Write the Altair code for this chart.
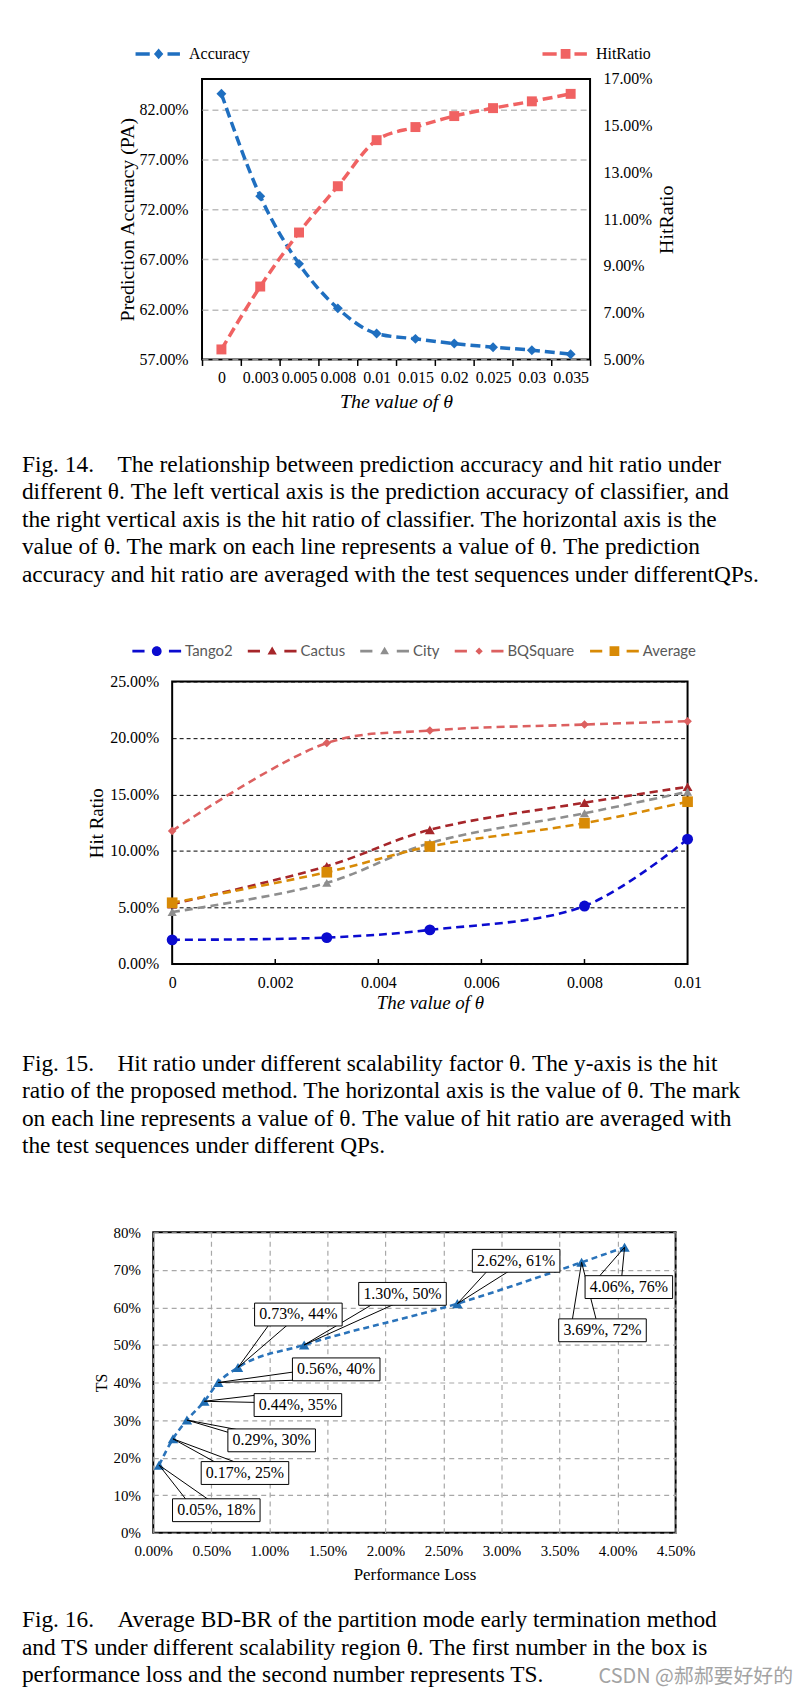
import altair as alt
import pandas as pd

SERIF = "Liberation Serif"

# ---------------- Fig. 14 data ----------------
theta14 = ["0", "0.003", "0.005", "0.008", "0.01", "0.015", "0.02", "0.025", "0.03", "0.035"]
accuracy14 = [83.56, 73.33, 66.56, 62.11, 59.59, 59.06, 58.59, 58.23, 57.93, 57.53]
hitratio14 = [5.43, 8.12, 10.43, 12.41, 14.38, 14.94, 15.41, 15.75, 16.04, 16.36]
acc_ticks = [57, 62, 67, 72, 77, 82]
hit_ticks = [5, 7, 9, 11, 13, 15, 17]

# ---------------- Fig. 15 data ----------------
theta15 = [0, 0.003, 0.005, 0.008, 0.01]
tango2 = [2.14, 2.34, 3.02, 5.13, 11.05]
cactus = [5.3, 8.65, 11.87, 14.27, 15.68]
city = [4.6, 7.18, 10.7, 13.34, 15.24]
bqsquare = [11.78, 19.55, 20.66, 21.19, 21.48]
average = [5.42, 8.12, 10.4, 12.46, 14.36]
series15 = ["Tango2", "Cactus", "City", "BQSquare", "Average"]
x15_ticks = [0, 0.002, 0.004, 0.006, 0.008, 0.01]
y15_ticks = [0, 5, 10, 15, 20, 25]

# ---------------- Fig. 16 data ----------------
loss16 = [0.05, 0.17, 0.29, 0.44, 0.56, 0.73, 1.30, 2.62, 3.69, 4.06]
ts16 = [18, 25, 30, 35, 40, 44, 50, 61, 72, 76]
# callout box centres (data units)
box_x16 = [0.543, 0.79, 1.02, 1.246, 1.576, 1.25, 2.147, 3.126, 3.870, 4.097]
box_y16 = [6.0, 15.9, 24.6, 34.0, 43.5, 58.1, 63.6, 72.4, 53.9, 65.4]
# callout wedge base points (data units)
w1x16 = [0.284, 0.545, 0.66, 0.88, 1.21, 0.995, 1.893, 2.875, 3.610, 3.840]
w1y16 = [8.8, 18.6, 26.6, 36.6, 42.8, 55.3, 60.9, 69.6, 56.7, 68.2]
w2x16 = [0.477, 0.725, 0.75, 0.88, 1.21, 1.155, 2.079, 3.061, 3.816, 4.036]
w2y16 = [8.8, 18.6, 27.3, 34.7, 40.6, 55.3, 60.9, 69.6, 56.7, 68.2]
x16_ticks = [0, 0.5, 1.0, 1.5, 2.0, 2.5, 3.0, 3.5, 4.0, 4.5]
y16_ticks = [0, 10, 20, 30, 40, 50, 60, 70, 80]

# ---------------- captions ----------------
cap14 = [
    "Fig. 14.\u00a0\u00a0\u00a0\u00a0The relationship between prediction accuracy and hit ratio under",
    "different θ. The left vertical axis is the prediction accuracy of classifier, and",
    "the right vertical axis is the hit ratio of classifier. The horizontal axis is the",
    "value of θ. The mark on each line represents a value of θ. The prediction",
    "accuracy and hit ratio are averaged with the test sequences under differentQPs.",
]
cap15 = [
    "Fig. 15.\u00a0\u00a0\u00a0\u00a0Hit ratio under different scalability factor θ. The y-axis is the hit",
    "ratio of the proposed method. The horizontal axis is the value of θ. The mark",
    "on each line represents a value of θ. The value of hit ratio are averaged with",
    "the test sequences under different QPs.",
]
cap16 = [
    "Fig. 16.\u00a0\u00a0\u00a0\u00a0Average BD-BR of the partition mode early termination method",
    "and TS under different scalability region θ. The first number in the box is",
    "performance loss and the second number represents TS.",
]
watermark = "CSDN @郝郝要好好的"

# ---------------- styles ----------------
ACC_C = "#1F6FC0"
HIT_C = "#F06262"
COL15 = ["#0B0BCF", "#A6262A", "#8E8E8E", "#DC6060", "#D88A06"]
SHAPES15 = ["circle", "triangle-up", "triangle-up", "diamond", "square"]
SIZES15 = [120, 100, 85, 75, 115]
C16 = "#2A73BA"

ACC_SYM = ("M-1,-0.078L-0.36,-0.078L-0.36,0.078L-1,0.078Z "
           "M0.44,-0.078L1,-0.078L1,0.078L0.44,0.078Z "
           "M0.04,-0.24L0.25,0L0.04,0.24L-0.17,0Z")
HIT_SYM = ("M-1,-0.078L-0.36,-0.078L-0.36,0.078L-1,0.078Z "
           "M0.44,-0.078L1,-0.078L1,0.078L0.44,0.078Z "
           "M-0.18,-0.22L0.26,-0.22L0.26,0.22L-0.18,0.22Z")
DASHES = "M-1,-0.06L-0.5,-0.06L-0.5,0.06L-1,0.06Z M0.5,-0.06L1,-0.06L1,0.06L0.5,0.06Z "
SYM15 = [
    DASHES + "M-0.2,0A0.2,0.2 0 1,1 0.2,0A0.2,0.2 0 1,1 -0.2,0Z",
    DASHES + "M0,-0.19L0.19,0.14L-0.19,0.14Z",
    DASHES + "M0,-0.18L0.18,0.13L-0.18,0.13Z",
    DASHES + "M0,-0.15L0.15,0L0,0.15L-0.15,0Z",
    DASHES + "M-0.2,-0.2L0.2,-0.2L0.2,0.2L-0.2,0.2Z",
]
BOX_PATH = "M-1,-0.261L1,-0.261L1,0.261L-1,0.261Z"


def axis(**kw):
    base = dict(labelFont=SERIF, labelColor="black", titleFont=SERIF, titleColor="black",
                titleFontWeight="normal", domain=False, ticks=False, grid=False,
                labelOverlap=False)
    base.update(kw)
    return alt.Axis(**base)


def caption(lines, dx, offset):
    return alt.TitleParams(text=lines, orient="bottom", anchor="start", frame="group",
                           dx=dx, offset=offset, font=SERIF, fontSize=23.5,
                           fontWeight="normal", lineHeight=27.6, color="black")


def spacer(top):
    return alt.Chart(pd.DataFrame({"v": [0]})).mark_rule(color="white", strokeWidth=1).encode(
        x=alt.value(0), x2=alt.value(1), y=alt.value(top), y2=alt.value(top)
    ).properties(width=1, height=1, view=alt.ViewBackground(strokeOpacity=0))


def row(top, chart):
    return alt.hconcat(spacer(top), chart, spacing=0).resolve_scale(
        color="independent", shape="independent")


# ================= Chart 1 (Fig. 14) =================
df14 = pd.DataFrame({"theta": theta14, "acc": accuracy14, "hit": hitratio14})
x14 = alt.X("theta:N", sort=theta14, bandPosition=0.5,
            scale=alt.Scale(type="band", paddingInner=0, paddingOuter=0),
            axis=axis(title="The value of θ", ticks=True, tickBand="extent", tickSize=6,
                      tickColor="black", tickWidth=1.5, labelAngle=0, labelPadding=4,
                      labelFontSize=16, titleFontSize=20, titleFontStyle="italic",
                      titlePadding=6))
y_acc = alt.Y("acc:Q", scale=alt.Scale(domain=[57, 85.05], nice=False, zero=False),
              axis=axis(orient="left", values=acc_ticks,
                        labelExpr="format(datum.value, '.2f') + '%'", labelFontSize=16,
                        labelPadding=14, grid=True, gridDash=[6, 4], gridColor="#BDBDBD",
                        gridWidth=1.3, title="Prediction Accuracy (PA)", titleFontSize=20,
                        titlePadding=2))
y_hit = alt.Y("hit:Q", scale=alt.Scale(domain=[5, 17], nice=False, zero=False),
              axis=axis(orient="right", values=hit_ticks,
                        labelExpr="format(datum.value, '.2f') + '%'", labelFontSize=16,
                        labelPadding=13, title="HitRatio", titleFontSize=20, titlePadding=5,
                        titleAngle=270, titleBaseline="top"))


def leg14(x, sym):
    return alt.Legend(title=None, orient="none", legendX=x, legendY=-47.6, symbolType=sym,
                      symbolSize=1990, symbolStrokeWidth=0, symbolOpacity=1, labelFont=SERIF,
                      labelFontSize=16, labelColor="black", labelOffset=9, padding=0)


acc_line = alt.Chart(df14).mark_line(color=ACC_C, strokeWidth=3.5, strokeDash=[10, 5],
                                     interpolate="monotone").encode(x=x14, y=y_acc)
acc_pts = alt.Chart(df14).transform_calculate(series="'Accuracy'").mark_point(
    shape="diamond", filled=True, size=100, opacity=1).encode(
    x=x14, y=y_acc,
    color=alt.Color("series:N", scale=alt.Scale(domain=["Accuracy"], range=[ACC_C]),
                    legend=leg14(-67, ACC_SYM)))
hit_line = alt.Chart(df14).mark_line(color=HIT_C, strokeWidth=3.5, strokeDash=[10, 5],
                                     interpolate="monotone").encode(x=x14, y=y_hit)
hit_pts = alt.Chart(df14).transform_calculate(series="'HitRatio'").mark_point(
    shape="square", filled=True, size=100, opacity=1).encode(
    x=x14, y=y_hit,
    color=alt.Color("series:N", scale=alt.Scale(domain=["HitRatio"], range=[HIT_C]),
                    legend=leg14(342, HIT_SYM)))

chart14 = alt.layer(alt.layer(acc_line, acc_pts), alt.layer(hit_line, hit_pts)).resolve_scale(
    y="independent", color="independent").properties(
    width=390, height=282, title=caption(cap14, -181, 42))

# ================= Chart 2 (Fig. 15) =================
rows15 = []
for s, vals in zip(series15, [tango2, cactus, city, bqsquare, average]):
    for t, v in zip(theta15, vals):
        rows15.append({"theta": t, "series": s, "value": v})
df15 = pd.DataFrame(rows15)

SC15X = alt.Scale(domain=[0, 0.01], nice=False, zero=False)
SC15Y = alt.Scale(domain=[0, 25], nice=False, zero=False)
AX15X = axis(values=x15_ticks, labelExpr="format(datum.value, '~g')",
             labelFlush=False, labelFontSize=16, labelPadding=11,
             title="The value of θ", titleFontSize=19, titleFontStyle="italic",
             titlePadding=3)
AX15Y = axis(values=y15_ticks, labelExpr="format(datum.value, '.2f') + '%'",
             labelFontSize=16, labelPadding=13.5, grid=True, gridDash=[4, 3],
             gridColor="black", gridWidth=1, title="Hit Ratio", titleFontSize=19,
             titlePadding=3)
x15 = alt.X("theta:Q", scale=SC15X, axis=AX15X)
y15 = alt.Y("value:Q", scale=SC15Y, axis=AX15Y)

layers15 = []
# inward tick marks on the horizontal axis
df15_ticks = pd.DataFrame({"t": x15_ticks[1:-1], "v": [0] * (len(x15_ticks) - 2)})
layers15.append(alt.Chart(df15_ticks).mark_tick(
    color="black", thickness=1.5, size=5, yOffset=-2.5, orient="vertical", opacity=1).encode(
    x=alt.X("t:Q", scale=SC15X, axis=AX15X), y=alt.Y("v:Q", scale=SC15Y, axis=AX15Y)))

for i, s in enumerate(series15):
    sub = alt.Chart(df15).transform_filter(alt.datum.series == s)
    layers15.append(sub.mark_line(color=COL15[i], strokeWidth=2.6, strokeDash=[8, 5],
                                  interpolate="catmull-rom").encode(x=x15, y=y15))
    layers15.append(sub.mark_point(shape=SHAPES15[i], size=SIZES15[i], filled=True, opacity=1,
                                   color=COL15[i]).encode(x=x15, y=y15))

leg15 = alt.Legend(title=None, orient="none", direction="horizontal", columns=5,
                   legendX=-40, legendY=-55.2, symbolSize=2400, symbolStrokeWidth=0,
                   symbolOpacity=1, labelFont="Lato", labelFontSize=15, labelColor="#595959",
                   labelOffset=4, columnPadding=15, padding=0)
legend15 = alt.Chart(df15).transform_filter("false").mark_point(filled=True, opacity=1).encode(
    x=x15, y=y15,
    color=alt.Color("series:N", scale=alt.Scale(domain=series15, range=COL15), legend=leg15),
    shape=alt.Shape("series:N", scale=alt.Scale(domain=series15, range=SYM15), legend=leg15))
layers15.append(legend15)

chart15 = alt.layer(*layers15).properties(width=518, height=284,
                                          title=caption(cap15, -151, 39.2))

# ================= Chart 3 (Fig. 16) =================
df16 = pd.DataFrame({"loss": loss16, "ts": ts16, "bx": box_x16, "by": box_y16,
                     "w1x": w1x16, "w1y": w1y16, "w2x": w2x16, "w2y": w2y16})
df16["label"] = [f"{l:.2f}%, {t}%" for l, t in zip(loss16, ts16)]

SC16X = alt.Scale(domain=[0, 4.5], nice=False, zero=False)
SC16Y = alt.Scale(domain=[0, 80], nice=False, zero=False)
AX16X = axis(values=x16_ticks, labelExpr="format(datum.value, '.2f') + '%'",
             labelFlush=False, labelFontSize=15, labelPadding=11, tickCount=10,
             grid=True, gridDash=[5, 4], gridColor="#A8A8A8", gridWidth=1.2,
             title="Performance Loss", titleFontSize=17, titlePadding=8)
AX16Y = axis(values=y16_ticks, labelExpr="datum.value + '%'", labelFontSize=15,
             labelPadding=13, tickCount=9, labelSeparation=0,
             grid=True, gridDash=[5, 4], gridColor="#A8A8A8",
             gridWidth=1.2, title="TS", titleFontSize=16, titlePadding=4)
x16 = alt.X("loss:Q", scale=SC16X, axis=AX16X)
y16 = alt.Y("ts:Q", scale=SC16Y, axis=AX16Y)
bx16 = alt.X("bx:Q", scale=SC16X, axis=AX16X)
by16 = alt.Y("by:Q", scale=SC16Y, axis=AX16Y)

base16 = alt.Chart(df16)
line16 = base16.mark_line(color=C16, strokeWidth=2.6, strokeDash=[6, 4],
                          interpolate="monotone").encode(x=x16, y=y16)
pts16 = base16.mark_point(shape="triangle-up", size=110, filled=True, opacity=1,
                          color="#1F6DB3").encode(x=x16, y=y16)
wedge1 = base16.mark_rule(color="black", strokeWidth=1).encode(
    x=x16, y=y16, x2=alt.X2("w1x:Q"), y2=alt.Y2("w1y:Q"))
wedge2 = base16.mark_rule(color="black", strokeWidth=1).encode(
    x=x16, y=y16, x2=alt.X2("w2x:Q"), y2=alt.Y2("w2y:Q"))
boxes16 = base16.mark_point(shape=BOX_PATH, size=7744, filled=True, fill="white",
                            stroke="black", strokeWidth=1, opacity=1, fillOpacity=1,
                            strokeOpacity=1).encode(x=bx16, y=by16)
text16 = base16.mark_text(font=SERIF, fontSize=16, color="black", align="center",
                          baseline="middle").encode(x=bx16, y=by16, text="label:N")

chart16 = alt.layer(line16, pts16, wedge1, wedge2, boxes16, text16).properties(
    width=525, height=302, title=caption(cap16, -132, 26))

# ================= page =================
page = alt.vconcat(
    row(0, chart14),
    row(0, chart15),
    row(-35, chart16),
    spacing=37.6,
).resolve_scale(color="independent", shape="independent").properties(
    padding={"left": 10, "top": 18, "right": 5, "bottom": 0},
    background="white",
    title=alt.TitleParams(text=watermark, orient="bottom", anchor="start", frame="bounds",
                          dx=583, dy=-20.6, offset=0, font="Noto Sans CJK SC", fontSize=20,
                          fontWeight="normal", color="#A3A3A3"),
).configure_view(stroke="black", strokeWidth=2).configure_axis(
    labelFont=SERIF, titleFont=SERIF).configure_legend(labelFont=SERIF)

page.save("out.html", embed_options={"renderer": "svg", "actions": False})
